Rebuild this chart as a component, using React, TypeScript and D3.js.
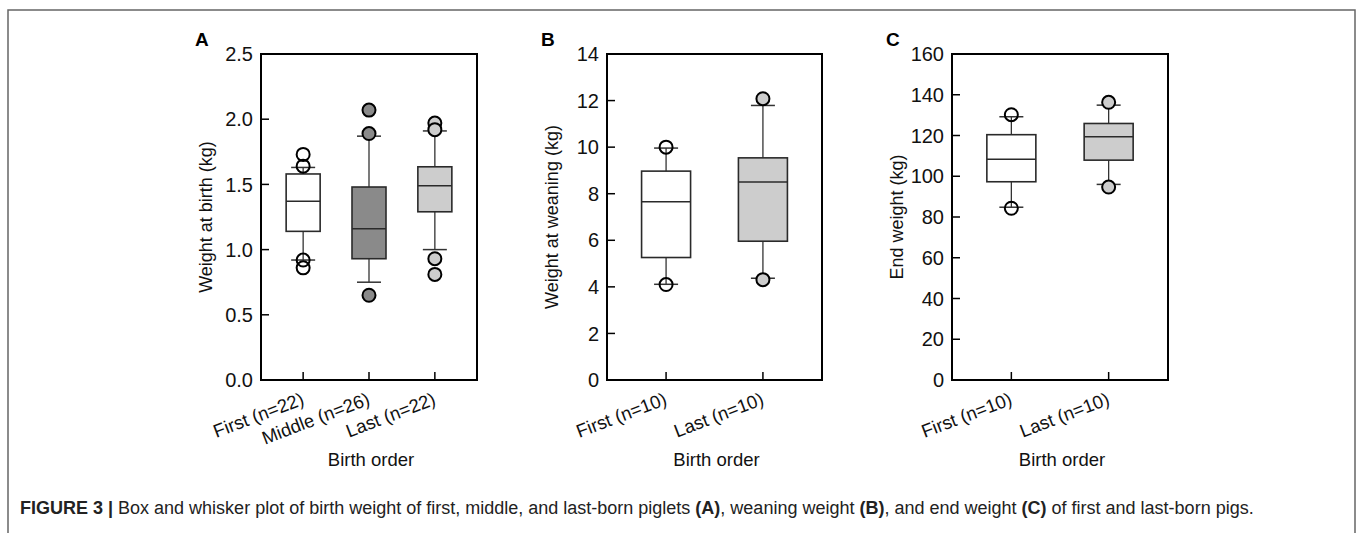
import React, { useEffect, useRef } from "react";
import * as d3 from "d3";

// panel A - birth weight
const birthGroups = ["First (n=22)", "Middle (n=26)", "Last (n=22)"];
const birthLow = [0.92, 0.75, 1.0];
const birthQ1 = [1.14, 0.93, 1.29];
const birthMedian = [1.37, 1.16, 1.49];
const birthQ3 = [1.58, 1.48, 1.635];
const birthHigh = [1.63, 1.87, 1.91];
const birthOutliers = [
  [1.73, 1.64, 0.92, 0.86],
  [2.07, 1.89, 0.65],
  [1.97, 1.92, 0.93, 0.81],
];
const birthFills = ["#ffffff", "#8a8a8a", "#cdcdcd"];
const birthTicks = [0, 0.5, 1.0, 1.5, 2.0, 2.5];

// panel B - weaning weight
const weanGroups = ["First (n=10)", "Last (n=10)"];
const weanLow = [4.11, 4.37];
const weanQ1 = [5.26, 5.96];
const weanMedian = [7.65, 8.5];
const weanQ3 = [8.97, 9.54];
const weanHigh = [9.96, 11.79];
const weanOutliers = [
  [10.0, 4.1],
  [12.08, 4.31],
];
const weanFills = ["#ffffff", "#cdcdcd"];
const weanTicks = [0, 2, 4, 6, 8, 10, 12, 14];

// panel C - end weight
const endGroups = ["First (n=10)", "Last (n=10)"];
const endLow = [84.8, 96.0];
const endQ1 = [97.3, 107.9];
const endMedian = [108.3, 119.4];
const endQ3 = [120.4, 125.9];
const endHigh = [129.2, 134.9];
const endOutliers = [
  [130.2, 84.3],
  [136.3, 94.7],
];
const endFills = ["#ffffff", "#cdcdcd"];
const endTicks = [0, 20, 40, 60, 80, 100, 120, 140, 160];

const font = "Arial, 'Liberation Sans', Helvetica, sans-serif";

function drawPanel(svg, opts) {
  const top = 54;
  const bottom = 380;
  const { left, right, letter, yLabel, groups, low, q1, med, q3, high, outliers, fills, ticks, fmt, padding, boxW } = opts;

  const x = d3.scalePoint().domain(groups).range([left, right]).padding(padding);
  const y = d3.scaleLinear().domain([ticks[0], ticks[ticks.length - 1]]).range([bottom, top]);

  const g = svg.append("g");

  // y ticks (inward) + labels
  g.selectAll(".ytick")
    .data(ticks)
    .enter()
    .append("line")
    .attr("x1", left)
    .attr("x2", left + 8)
    .attr("y1", (d) => y(d))
    .attr("y2", (d) => y(d))
    .attr("stroke", "#000")
    .attr("stroke-width", 1.5);
  g.selectAll(".ylab")
    .data(ticks)
    .enter()
    .append("text")
    .attr("x", left - 8)
    .attr("y", (d) => y(d))
    .attr("dy", "0.36em")
    .attr("text-anchor", "end")
    .attr("font-size", 20)
    .attr("font-family", font)
    .attr("fill", "#111")
    .text((d) => d3.format(fmt)(d));

  // x ticks (inward) + rotated labels
  g.selectAll(".xtick")
    .data(groups)
    .enter()
    .append("line")
    .attr("x1", (d) => x(d))
    .attr("x2", (d) => x(d))
    .attr("y1", bottom)
    .attr("y2", bottom - 8)
    .attr("stroke", "#000")
    .attr("stroke-width", 1.5);
  g.selectAll(".xlab")
    .data(groups)
    .enter()
    .append("text")
    .attr("transform", (d) => `translate(${x(d) + 2},${bottom + 24}) rotate(-21)`)
    .attr("text-anchor", "end")
    .attr("font-size", 18.5)
    .attr("font-family", font)
    .attr("fill", "#111")
    .text((d) => d);

  // whiskers + caps
  const wg = g.selectAll(".whisk").data(groups).enter().append("g");
  wg.append("line")
    .attr("x1", (d) => x(d))
    .attr("x2", (d) => x(d))
    .attr("y1", (d, i) => y(high[i]))
    .attr("y2", (d, i) => y(low[i]))
    .attr("stroke", "#333")
    .attr("stroke-width", 1.3);
  [high, low].forEach((arr) => {
    wg.append("line")
      .attr("x1", (d) => x(d) - 12)
      .attr("x2", (d) => x(d) + 12)
      .attr("y1", (d, i) => y(arr[i]))
      .attr("y2", (d, i) => y(arr[i]))
      .attr("stroke", "#333")
      .attr("stroke-width", 1.5);
  });

  // boxes
  g.selectAll(".box")
    .data(groups)
    .enter()
    .append("rect")
    .attr("x", (d) => x(d) - boxW / 2)
    .attr("width", boxW)
    .attr("y", (d, i) => y(q3[i]))
    .attr("height", (d, i) => y(q1[i]) - y(q3[i]))
    .attr("fill", (d, i) => fills[i])
    .attr("stroke", "#2a2a2a")
    .attr("stroke-width", 1.6);
  g.selectAll(".med")
    .data(groups)
    .enter()
    .append("line")
    .attr("x1", (d) => x(d) - boxW / 2)
    .attr("x2", (d) => x(d) + boxW / 2)
    .attr("y1", (d, i) => y(med[i]))
    .attr("y2", (d, i) => y(med[i]))
    .attr("stroke", "#2a2a2a")
    .attr("stroke-width", 1.5);

  // outliers
  const pts = [];
  groups.forEach((grp, i) => outliers[i].forEach((v) => pts.push({ grp, v, fill: fills[i] })));
  g.selectAll(".out")
    .data(pts)
    .enter()
    .append("circle")
    .attr("cx", (d) => x(d.grp))
    .attr("cy", (d) => y(d.v))
    .attr("r", 6.5)
    .attr("fill", (d) => d.fill)
    .attr("fill-opacity", (d) => (d.fill === "#ffffff" ? 0 : 1))
    .attr("stroke", "#000")
    .attr("stroke-width", 2);

  // plot frame
  g.append("rect")
    .attr("x", left)
    .attr("y", top)
    .attr("width", right - left)
    .attr("height", bottom - top)
    .attr("fill", "none")
    .attr("stroke", "#000")
    .attr("stroke-width", 2);

  // titles
  g.append("text")
    .attr("x", left - 66)
    .attr("y", 46)
    .attr("font-size", 19)
    .attr("font-weight", "bold")
    .attr("font-family", font)
    .text(letter);
  g.append("text")
    .attr("transform", `translate(${left - 55},${(top + bottom) / 2}) rotate(-90)`)
    .attr("dy", "0.36em")
    .attr("text-anchor", "middle")
    .attr("font-size", 18)
    .attr("font-family", font)
    .attr("fill", "#111")
    .text(yLabel);
  g.append("text")
    .attr("x", (left + right) / 2 + 2)
    .attr("y", 466)
    .attr("text-anchor", "middle")
    .attr("font-size", 18.5)
    .attr("font-family", font)
    .attr("fill", "#111")
    .text("Birth order");
}

export default function App() {
  const svgRef = useRef(null);
  const width = 1360;
  const height = 533;

  useEffect(() => {
    const svg = d3.select(svgRef.current);
    svg.selectAll("*").remove();

    // outer figure border
    svg.append("path")
      .attr("d", `M8,${height} V10 H1355 V${height}`)
      .attr("fill", "none")
      .attr("stroke", "#666")
      .attr("stroke-width", 1.5);

    drawPanel(svg, {
      left: 261, right: 477, letter: "A", yLabel: "Weight at birth (kg)",
      groups: birthGroups, low: birthLow, q1: birthQ1, med: birthMedian, q3: birthQ3,
      high: birthHigh, outliers: birthOutliers, fills: birthFills, ticks: birthTicks,
      fmt: ".1f", padding: 0.64, boxW: 34,
    });
    drawPanel(svg, {
      left: 607, right: 822, letter: "B", yLabel: "Weight at weaning (kg)",
      groups: weanGroups, low: weanLow, q1: weanQ1, med: weanMedian, q3: weanQ3,
      high: weanHigh, outliers: weanOutliers, fills: weanFills, ticks: weanTicks,
      fmt: "d", padding: 0.61, boxW: 49,
    });
    drawPanel(svg, {
      left: 952, right: 1168, letter: "C", yLabel: "End weight (kg)",
      groups: endGroups, low: endLow, q1: endQ1, med: endMedian, q3: endQ3,
      high: endHigh, outliers: endOutliers, fills: endFills, ticks: endTicks,
      fmt: "d", padding: 0.61, boxW: 49,
    });

    // caption
    const cap = svg.append("text")
      .attr("x", 20)
      .attr("y", 514)
      .attr("font-size", 18)
      .attr("font-family", font)
      .attr("fill", "#222");
    const parts = [
      ["FIGURE 3 | ", true],
      ["Box and whisker plot of birth weight of first, middle, and last-born piglets ", false],
      ["(A)", true],
      [", weaning weight ", false],
      ["(B)", true],
      [", and end weight ", false],
      ["(C)", true],
      [" of first and last-born pigs.", false],
    ];
    parts.forEach(([t, b]) => {
      cap.append("tspan").attr("font-weight", b ? "bold" : "normal").text(t);
    });
  }, []);

  return (
    <svg
      ref={svgRef}
      width={width}
      height={height}
      style={{ position: "absolute", left: 0, top: 0, background: "#fff" }}
    />
  );
}
